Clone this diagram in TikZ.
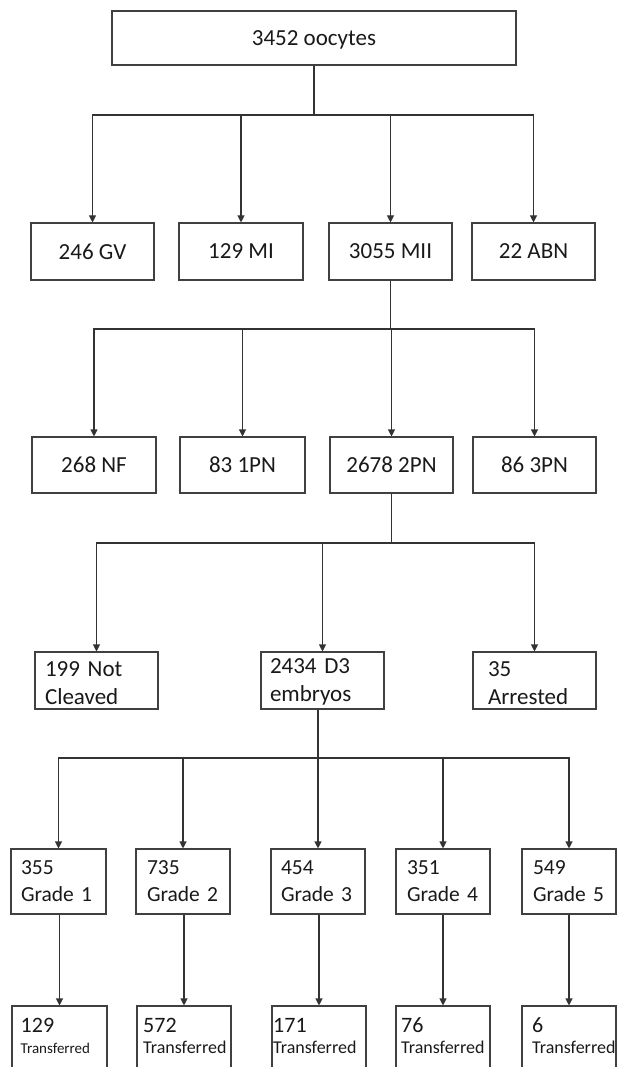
\documentclass[tikz,border=0pt]{standalone}
\usepackage{fontspec}
\setmainfont{Carlito}
\usetikzlibrary{arrows.meta,calc}
\begin{document}
\begin{tikzpicture}[x=1pt,y=-1pt,
  every node/.style={font=\fontsize{23}{28}\selectfont, text=black!90},
  box/.style={draw=black!75, line width=1.1pt, rectangle, inner sep=0pt},
  lbox/.style={box, align=left},
  gbox/.style={lbox, font=\fontsize{21.5}{27}\selectfont, minimum height=65pt},
  txt/.style={inner sep=0pt, anchor=base west, font=\fontsize{22}{26}\selectfont},
  conn/.style={draw=black!80, line width=1.1pt},
  arr/.style={conn, -{Triangle[length=7pt,width=7pt]}},
]
\useasboundingbox (0,0) rectangle (618,1067);

% top
\node[box, minimum width=404pt, minimum height=54pt, text depth=0pt,
      font=\fontsize{23}{28}\selectfont] (top) at (314,38) {3452 oocytes};

% row 2
\node[box, minimum width=123pt, minimum height=57pt] (gv)  at (92.5,251.5)  {246 GV};
\node[box, minimum width=124pt, minimum height=57pt] (mi)  at (241,251.5)   {129 MI};
\node[box, minimum width=123pt, minimum height=57pt] (mii) at (390.5,251.5) {3055 MII};
\node[box, minimum width=123pt, minimum height=57pt] (abn) at (533.5,251.5) {22 ABN};

% row 3
\node[box, minimum width=124pt, minimum height=56pt] (nf)  at (94,465)    {268 NF};
\node[box, minimum width=125pt, minimum height=56pt] (pn1) at (242.5,465) {83 1PN};
\node[box, minimum width=123pt, minimum height=56pt] (pn2) at (391.5,465) {2678 2PN};
\node[box, minimum width=123pt, minimum height=56pt] (pn3) at (534.5,465) {86 3PN};

% row 4
\node[lbox, minimum width=123pt, minimum height=57pt, inner xsep=10pt, text width=103pt] (nc) at (96.5,680.5) {\rule{0pt}{20pt}199 Not\\Cleaved};
\node[lbox, minimum width=123pt, minimum height=57pt, inner xsep=9pt, text width=105pt] (d3) at (322.5,680.5) {\rule{0pt}{17pt}2434 D3\\embryos};
\node[lbox, minimum width=123pt, minimum height=57pt, inner xsep=15pt, text width=93pt] (ar) at (534.5,680.5) {\rule{0pt}{20pt}35\\Arrested};

% row 5
\node[gbox, minimum width=95pt, inner xsep=10pt, text width=75pt] (g1) at (58.5,881.5) {355\\Grade~1};
\node[gbox, minimum width=94pt, inner xsep=11pt, text width=72pt] (g2) at (183,881.5) {735\\Grade~2};
\node[gbox, minimum width=94pt, inner xsep=10pt, text width=74pt] (g3) at (318,881.5) {454\\Grade~3};
\node[gbox, minimum width=94pt, inner xsep=11pt, text width=72pt] (g4) at (443,881.5) {351\\Grade~4};
\node[gbox, minimum width=94pt, inner xsep=11pt, text width=72pt] (g5) at (569,881.5) {549\\Grade~5};

% row 6 boxes (cut at the picture's bottom)
\node[box, minimum width=95pt, minimum height=80pt] (t1) at (59.5,1046) {};
\node[box, minimum width=94pt, minimum height=80pt] (t2) at (184,1046) {};
\node[box, minimum width=94pt, minimum height=80pt] (t3) at (319,1046) {};
\node[box, minimum width=94pt, minimum height=80pt] (t4) at (443,1046) {};
\node[box, minimum width=94pt, minimum height=80pt] (t5) at (569,1046) {};

\node[txt] (t1a) at (20.5,1032) {129};
\node[txt, font=\fontsize{15}{18}\selectfont] (t1b) at (20.5,1053) {Transferred};
\node[txt] (t2a) at (143,1032) {572};
\node[txt, font=\fontsize{18}{22}\selectfont] (t2b) at (143,1053) {Transferred};
\node[txt] (t3a) at (273,1032) {171};
\node[txt, font=\fontsize{18}{22}\selectfont] (t3b) at (273,1053) {Transferred};
\node[txt] (t4a) at (401,1032) {76};
\node[txt, font=\fontsize{18}{22}\selectfont] (t4b) at (401,1053) {Transferred};
\node[txt] (t5a) at (532,1032) {6};
\node[txt, font=\fontsize{18}{22}\selectfont] (t5b) at (532,1053) {Transferred};

% buses
\coordinate (b1) at (0,115);
\coordinate (b2) at (0,329);
\coordinate (b3) at (0,543);
\coordinate (b4) at (0,758);

\foreach \c in {gv,mi,mii,abn}
  \draw[arr] (top.south) -- (top.south |- b1) -| (\c.north);
\foreach \c in {nf,pn1,pn2,pn3}
  \draw[arr] (mii.south) -- (mii.south |- b2) -| (\c.north);
\foreach \c in {nc,d3,ar}
  \draw[arr] (pn2.south) -- (pn2.south |- b3) -| (\c.north);
\foreach \c in {g1,g2,g3,g4,g5}
  \draw[arr] (g3.north |- d3.south) -- (g3.north |- b4) -| (\c.north);

\draw[arr] (t1.north |- g1.south) -- (t1.north);
\draw[arr] (t2.north |- g2.south) -- (t2.north);
\draw[arr] (t3.north |- g3.south) -- (t3.north);
\draw[arr] (t4.north |- g4.south) -- (t4.north);
\draw[arr] (t5.north |- g5.south) -- (t5.north);
\end{tikzpicture}
\end{document}
